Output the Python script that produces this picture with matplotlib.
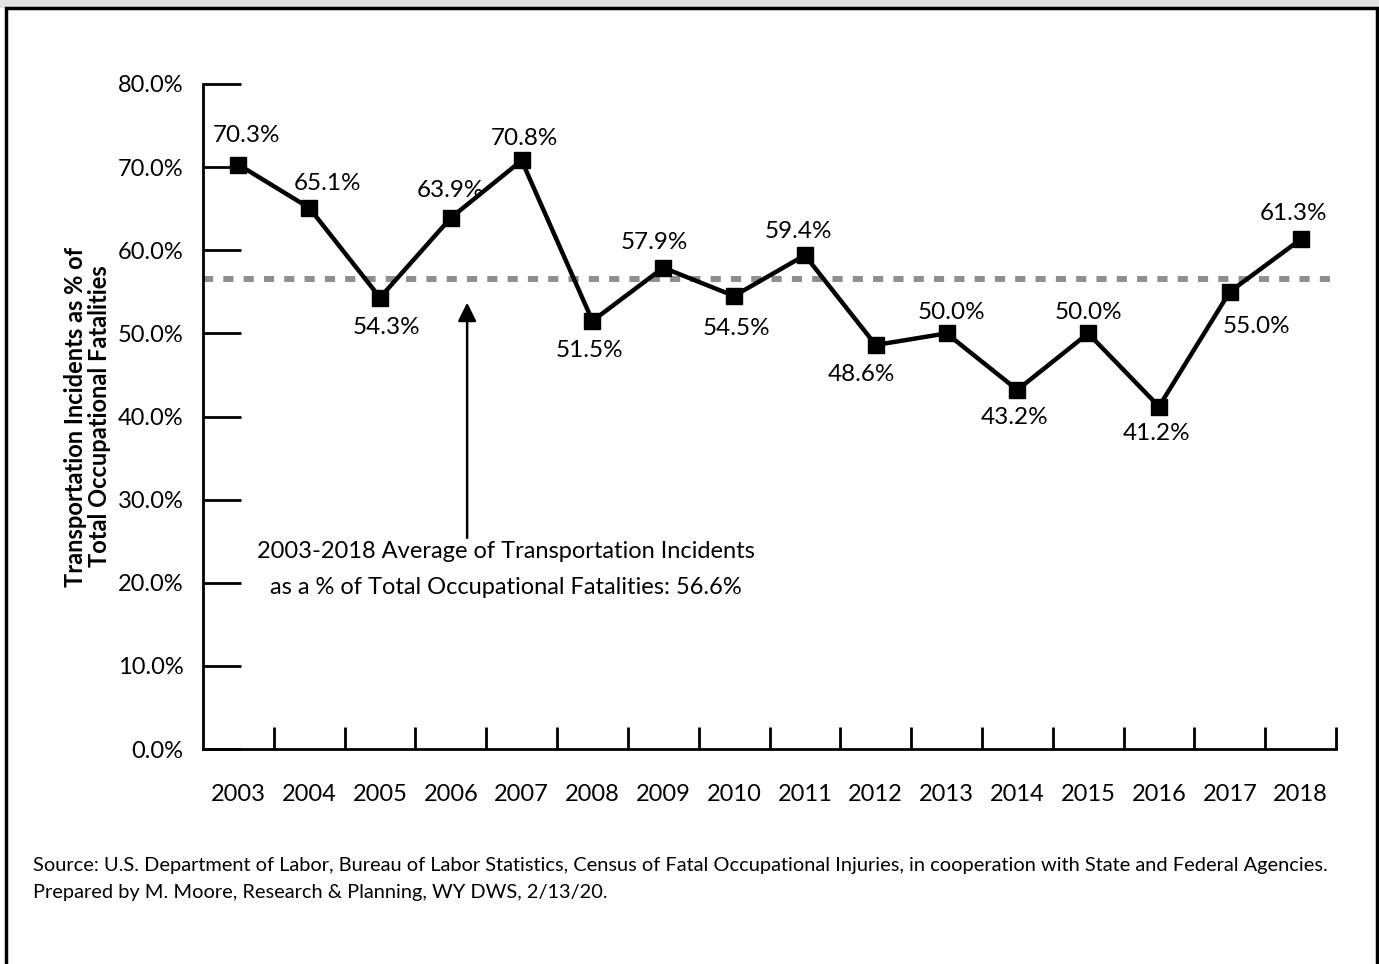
import matplotlib.pyplot as plt
from matplotlib.patches import Rectangle
from matplotlib.ticker import FixedLocator, PercentFormatter

plt.rcParams['font.family'] = ['Lato', 'DejaVu Sans']

# Transportation incidents as % of all occupational fatalities, 2003-2018
years = ['2003', '2004', '2005', '2006', '2007', '2008', '2009', '2010',
         '2011', '2012', '2013', '2014', '2015', '2016', '2017', '2018']
share = [70.3, 65.1, 54.3, 63.9, 70.8, 51.5, 57.9, 54.5,
         59.4, 48.6, 50.0, 43.2, 50.0, 41.2, 55.0, 61.3]
average = 56.6

# hand-placed value label offsets from each point, in pixels (x right, y up)
label_dx = [8, 18, 6, 0, 3, -3, -9, 2, -6, -14, 5, -3, 0, -2, 27, -7]
label_dy = [29, 24, -30, 27, 22, -30, 25, -33, 24, -29, 21, -28, 21, -27, -35, 26]

fig = plt.figure(figsize=(13.79, 9.64), dpi=100)
ax = fig.add_axes([203 / 1379, 1 - 749 / 964, 1133 / 1379, 665 / 964])

x = list(range(len(years)))
ax.axhline(average, color='#8f8f8f', lw=4.3, dashes=(1.7, 1.7),
           dash_capstyle='butt', zorder=1)
ax.plot(x, share, color='black', lw=3.2, marker='s', markersize=11.5, zorder=3)

for i, v in enumerate(share):
    ax.annotate(f'{v:.1f}%', (i, v),
                xytext=(label_dx[i] * 0.72, label_dy[i] * 0.72),
                textcoords='offset points', ha='center', va='center',
                fontsize=17.5)

ax.annotate('', xy=(3.23, 53.7), xytext=(3.23, 25.4),
            arrowprops=dict(arrowstyle='-|>', color='black', lw=1.8,
                            mutation_scale=28, shrinkA=0, shrinkB=0))
ax.text(3.78, 25.0, '2003-2018 Average of Transportation Incidents\n'
        'as a % of Total Occupational Fatalities: 56.6%',
        ha='center', va='top', fontsize=17, linespacing=1.9)

ax.set_xlim(-0.5, len(years) - 0.5)
ax.set_ylim(0, 80)
ax.set_xticks(x)
ax.set_xticklabels(years, fontsize=17)
ax.xaxis.set_minor_locator(FixedLocator([i + 0.5 for i in x]))
ax.tick_params(axis='x', which='major', length=0, pad=25)
ax.tick_params(axis='x', which='minor', length=16, width=2, direction='in')
ax.set_yticks(range(0, 81, 10))
ax.yaxis.set_major_formatter(PercentFormatter(decimals=1))
ax.tick_params(axis='y', length=27, width=2, direction='in', labelsize=17,
               pad=14)
for side in ['top', 'right']:
    ax.spines[side].set_visible(False)
for side in ['left', 'bottom']:
    ax.spines[side].set_linewidth(2)

ax.set_ylabel('Transportation Incidents as % of\nTotal Occupational Fatalities',
              fontsize=17, fontweight='bold', linespacing=1.05)
ax.yaxis.set_label_coords(-92 / 1133, 0.5)

fig.text(33 / 1379, 1 - 879 / 964,
         'Source: U.S. Department of Labor, Bureau of Labor Statistics, Census of '
         'Fatal Occupational Injuries, in cooperation with State and Federal Agencies.\n'
         'Prepared by M. Moore, Research & Planning, WY DWS, 2/13/20.',
         ha='left', va='center', fontsize=14.4, linespacing=1.65)

# page strip and frame around the chart
fig.patches.append(Rectangle((0, 1 - 7 / 964), 1, 7 / 964,
                             transform=fig.transFigure, color='#e3e3e3',
                             zorder=0))
fig.patches.append(Rectangle((6 / 1379, -0.02), 1371 / 1379, 1.02 - 8 / 964,
                             transform=fig.transFigure, fill=False,
                             edgecolor='black', lw=2.5, zorder=5))

fig.savefig('out.png', dpi=100)
